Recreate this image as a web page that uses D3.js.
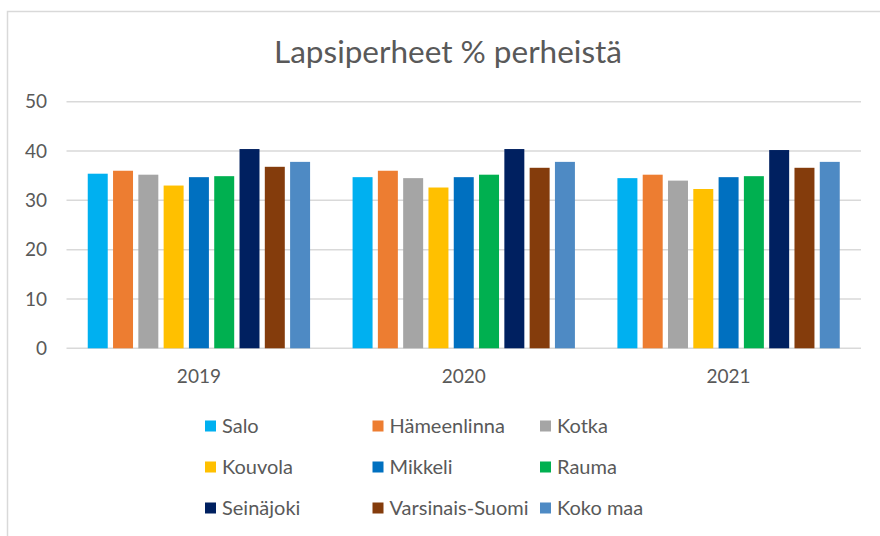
<!DOCTYPE html>
<html>
<head>
<meta charset="utf-8">
<script src="https://cdn.jsdelivr.net/npm/d3@7"></script>
<style>
  body { margin: 0; background: #fff; }
  text { font-family: Lato, "Open Sans", sans-serif; fill: #595959; }
</style>
</head>
<body>
<div id="chart"></div>
<script>
// Data
const years = ['2019', '2020', '2021'];
const places = ['Salo', 'Hämeenlinna', 'Kotka', 'Kouvola', 'Mikkeli', 'Rauma', 'Seinäjoki', 'Varsinais-Suomi', 'Koko maa'];
const colors = ['#00b0f0', '#ed7d31', '#a5a5a5', '#ffc000', '#0070c0', '#00b050', '#002060', '#843c0c', '#4e8ac4'];
const values2019 = [35.4, 36.0, 35.2, 33.0, 34.7, 34.9, 40.4, 36.8, 37.8];
const values2020 = [34.7, 36.0, 34.5, 32.6, 34.7, 35.2, 40.4, 36.6, 37.8];
const values2021 = [34.5, 35.2, 34.0, 32.3, 34.7, 34.9, 40.2, 36.6, 37.8];
const yTicks = [0, 10, 20, 30, 40, 50];

const seriesByYear = [values2019, values2020, values2021];

const width = 880, height = 536;
const margin = { top: 101.7, right: 19, bottom: 187.7, left: 66.5 };

const svg = d3.select('#chart')
    .append('svg')
    .attr('width', width)
    .attr('height', height);

// Chart frame
svg.append('rect')
    .attr('x', 7.5).attr('y', 11.5)
    .attr('width', width).attr('height', height)
    .attr('fill', 'none')
    .attr('stroke', '#d9d9d9')
    .attr('stroke-width', 1.5);

// Title
svg.append('text')
    .attr('x', 448)
    .attr('y', 63)
    .attr('text-anchor', 'middle')
    .style('font-size', '31.5px')
    .text('Lapsiperheet % perheistä');

const x0 = d3.scaleBand()
    .domain(years)
    .range([margin.left, width - margin.right]);

const x1 = d3.scaleBand()
    .domain(places)
    .range([0, x0.bandwidth()])
    .paddingInner(0.21)
    .paddingOuter(0.84);

const y = d3.scaleLinear()
    .domain([0, 50])
    .range([height - margin.bottom, margin.top]);

// Gridlines
svg.append('g')
    .selectAll('line')
    .data(yTicks)
    .join('line')
    .attr('x1', margin.left)
    .attr('x2', width - margin.right)
    .attr('y1', d => y(d))
    .attr('y2', d => y(d))
    .attr('stroke', '#d9d9d9')
    .attr('stroke-width', 1.5);

// Y axis labels
const yAxis = d3.axisLeft(y).tickValues(yTicks).tickSize(0).tickPadding(19.5);
svg.append('g')
    .attr('transform', `translate(${margin.left},0)`)
    .call(yAxis)
    .call(g => g.select('.domain').remove())
    .selectAll('text')
    .style('font-family', 'Lato, sans-serif')
    .style('font-size', '19px')
    .attr('fill', '#595959');

// X axis labels
const xAxis = d3.axisBottom(x0).tickSize(0).tickPadding(21);
svg.append('g')
    .attr('transform', `translate(0,${y(0)})`)
    .call(xAxis)
    .call(g => g.select('.domain').remove())
    .selectAll('text')
    .style('font-family', 'Lato, sans-serif')
    .style('font-size', '19px')
    .attr('fill', '#595959');

// Bars
const groups = svg.append('g')
    .selectAll('g')
    .data(years)
    .join('g')
    .attr('transform', d => `translate(${x0(d)},0)`);

groups.selectAll('rect')
    .data((d, i) => places.map((p, j) => ({ place: p, value: seriesByYear[i][j], color: colors[j] })))
    .join('rect')
    .attr('x', d => x1(d.place))
    .attr('width', x1.bandwidth())
    .attr('y', d => y(d.value))
    .attr('height', d => y(0) - y(d.value))
    .attr('fill', d => d.color);

// Legend
const legendCols = [205, 372.5, 540];
const legendRows = [426, 467, 508];
const legend = svg.append('g')
    .selectAll('g')
    .data(places)
    .join('g')
    .attr('transform', (d, i) => `translate(${legendCols[i % 3]},${legendRows[Math.floor(i / 3)]})`);

legend.append('rect')
    .attr('x', 0).attr('y', -5.5)
    .attr('width', 11).attr('height', 11)
    .attr('fill', (d, i) => colors[i]);

legend.append('text')
    .attr('x', 17)
    .attr('dy', '0.35em')
    .style('font-size', '20px')
    .text(d => d);
</script>
</body>
</html>
